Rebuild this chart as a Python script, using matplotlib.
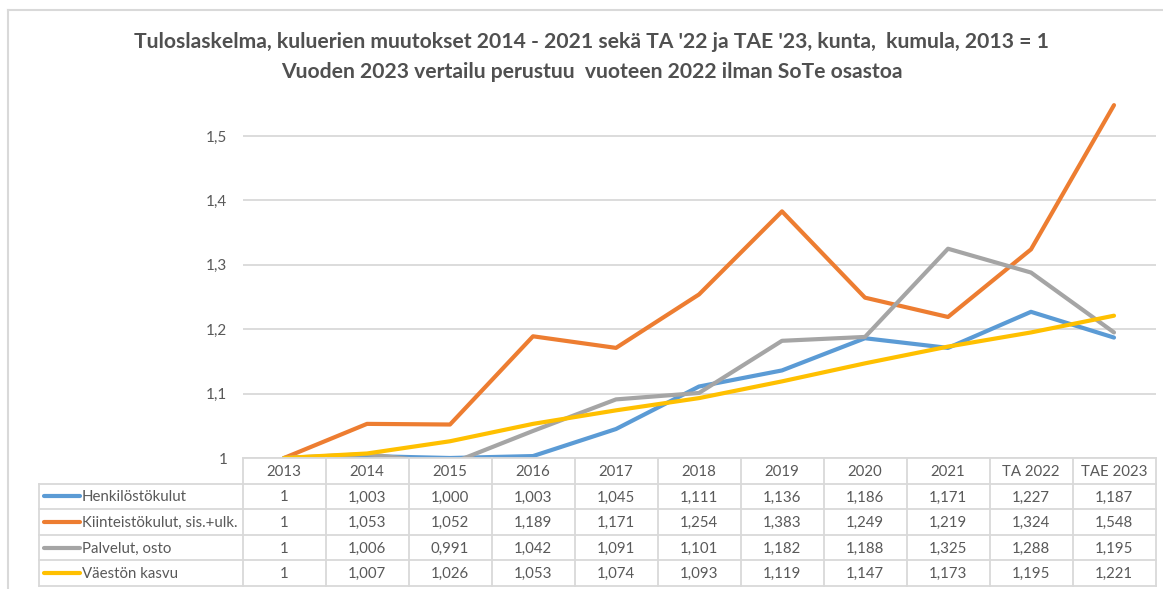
import matplotlib
matplotlib.use("Agg")
import matplotlib.pyplot as plt
from matplotlib.ticker import FuncFormatter, FixedLocator

# ---- data ----
categories = ["2013", "2014", "2015", "2016", "2017", "2018", "2019", "2020", "2021", "TA 2022", "TAE 2023"]
series_names = ["Henkilöstökulut", "Kiinteistökulut, sis.+ulk.", "Palvelut, osto", "Väestön kasvu"]
henkilosto = [1, 1.003, 1.000, 1.003, 1.045, 1.111, 1.136, 1.186, 1.171, 1.227, 1.187]
kiinteisto = [1, 1.053, 1.052, 1.189, 1.171, 1.254, 1.383, 1.249, 1.219, 1.324, 1.548]
palvelut = [1, 1.006, 0.991, 1.042, 1.091, 1.101, 1.182, 1.188, 1.325, 1.288, 1.195]
vaesto = [1, 1.007, 1.026, 1.053, 1.074, 1.093, 1.119, 1.147, 1.173, 1.195, 1.221]
series_values = [henkilosto, kiinteisto, palvelut, vaesto]
colors = ["#5B9BD5", "#ED7D31", "#A5A5A5", "#FFC000"]
title_lines = ["Tuloslaskelma, kuluerien muutokset 2014 - 2021 sekä TA '22 ja TAE '23, kunta,  kumula, 2013 = 1",
               "Vuoden 2023 vertailu perustuu  vuoteen 2022 ilman SoTe osastoa"]
y_ticks = [1.0, 1.1, 1.2, 1.3, 1.4, 1.5]

W, H = 1163, 589
fig = plt.figure(figsize=(W / 100, H / 100), dpi=100)
fig.patch.set_facecolor("white")

TXT = "#595959"
GRID = "#D9D9D9"
FONT = ["Lato", "DejaVu Sans"]

def fx(px):
    return px / W

def fy(py):
    return 1 - py / H

# main plot area (pixel layout)
left_px, right_px = 242.5, 1155.5
bottom_px, top_px = 458.0, 97.4
ax = fig.add_axes([fx(left_px), fy(bottom_px), fx(right_px - left_px), (bottom_px - top_px) / H])
n = len(categories)
x = list(range(n))
for name, vals, c in zip(series_names, series_values, colors):
    ax.plot(x, vals, color=c, lw=3.0, solid_capstyle="round", solid_joinstyle="round", zorder=3, clip_on=True)
ax.set_xlim(-0.5, n - 0.5)
ax.set_ylim(1.0, 1.56)
ax.yaxis.set_major_locator(FixedLocator(y_ticks))
ax.yaxis.set_major_formatter(FuncFormatter(lambda v, p: ("%g" % round(v, 1)).replace(".", ",")))
ax.tick_params(axis="y", length=0, pad=11, labelsize=11, labelcolor=TXT)
for lab in ax.get_yticklabels():
    lab.set_family(FONT)
ax.set_xticks([])
ax.grid(axis="y", color=GRID, lw=1.3, zorder=0)
for s in ["top", "right", "left", "bottom"]:
    ax.spines[s].set_visible(False)

# ---- data table (overlay in pixel coords) ----
tax = fig.add_axes([0, 0, 1, 1], zorder=5)
tax.set_xlim(0, W)
tax.set_ylim(H, 0)
tax.axis("off")
tax.patch.set_alpha(0)

col_w = (right_px - left_px) / n
leg_left = 38.5
row_top = bottom_px
row_h = 25.6
rows_y = [row_top + i * row_h for i in range(6)]
lc = "#D9D9D9"
lw = 1.3
tax.plot([left_px, right_px], [rows_y[0], rows_y[0]], color=lc, lw=lw)
for yy in rows_y[1:]:
    tax.plot([leg_left, right_px], [yy, yy], color=lc, lw=lw)
tax.plot([leg_left, leg_left], [rows_y[1], rows_y[5]], color=lc, lw=lw)
for i in range(n + 1):
    xx = left_px + i * col_w
    tax.plot([xx, xx], [rows_y[0], rows_y[5]], color=lc, lw=lw)

fs_tab = 10.8
for i, cat in enumerate(categories):
    tax.text(left_px + (i + 0.5) * col_w, (rows_y[0] + rows_y[1]) / 2 + 1, cat, ha="center", va="center",
             fontsize=fs_tab, color=TXT, family=FONT)
for r, (name, vals, c) in enumerate(zip(series_names, series_values, colors)):
    yc = (rows_y[r + 1] + rows_y[r + 2]) / 2 + 1
    tax.plot([44, 80], [yc - 1, yc - 1], color=c, lw=3.0, solid_capstyle="round")
    tax.text(82, yc, name, ha="left", va="center", fontsize=fs_tab, color=TXT, family=FONT)
    for i, v in enumerate(vals):
        s = "1" if i == 0 else ("%.3f" % v).replace(".", ",")
        tax.text(left_px + (i + 0.5) * col_w, yc, s, ha="center", va="center",
                 fontsize=fs_tab, color=TXT, family=FONT)

# chart border
tax.plot([8, W], [10, 10], color=GRID, lw=1.5)
tax.plot([8, 8], [10, H], color=GRID, lw=1.5)

# title
for k, ty in enumerate([42, 72]):
    tax.text(592, ty, title_lines[k], ha="center", va="center", fontsize=15.2, fontweight="bold",
             color="#505050", family=["Lato", "DejaVu Sans"])

fig.savefig("out.png", dpi=100, facecolor="white")
